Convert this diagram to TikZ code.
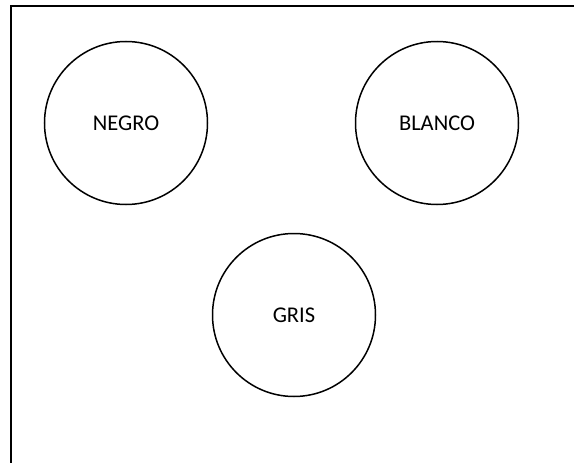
\documentclass[tikz,border=0pt]{standalone}
\usepackage{fontspec}
\setmainfont{Carlito}
\begin{document}
\begin{tikzpicture}[x=1pt,y=-1pt,
  colorcircle/.style={circle,draw=black,line width=1.5pt,minimum size=163pt,inner sep=0pt,font=\fontsize{22.5}{26}\selectfont},
  frameline/.style={line width=2.2pt,draw=black}]
\useasboundingbox (0,0) rectangle (574,463);
\fill[white] (0,0) rectangle (574,463);
\coordinate (fbl) at (11,465);
\coordinate (ftl) at (11,6);
\coordinate (ftr) at (576,6);
\draw[frameline] (fbl) -- (ftl) -- (ftr);
\node[colorcircle] (negro) at (126,123) {NEGRO};
\node[colorcircle] (blanco) at (437,123) {BLANCO};
\node[colorcircle] (gris) at (294,315) {GRIS};
\end{tikzpicture}
\end{document}
